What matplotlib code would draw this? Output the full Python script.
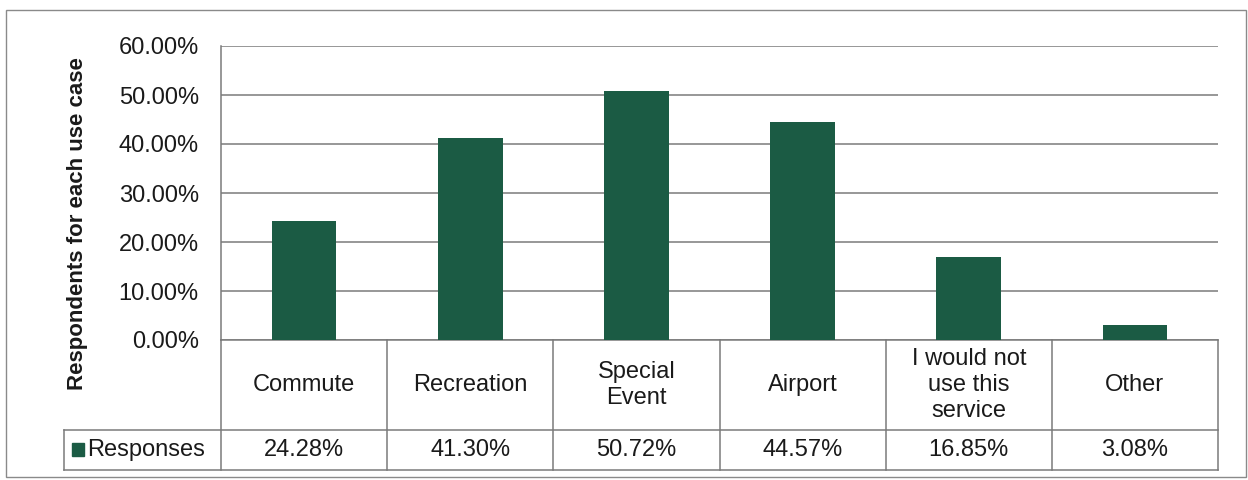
import matplotlib.pyplot as plt
from matplotlib.patches import Rectangle

plt.rcParams['font.family'] = ['Liberation Sans', 'DejaVu Sans']

categories = ["Commute", "Recreation", "Special\nEvent", "Airport",
              "I would not\nuse this\nservice", "Other"]
responses = [24.28, 41.30, 50.72, 44.57, 16.85, 3.08]
series_name = "Responses"
yticks = [0, 10, 20, 30, 40, 50, 60]

bar_color = "#1b5b44"
line_color = "#7a7a7a"
text_color = "#1a1a1a"

W, H = 1248, 480
fig = plt.figure(figsize=(W / 100, H / 100), dpi=100)

# plot area in pixels: left, top, right, bottom
px_l, px_t, px_r, px_b = 221, 46, 1218, 340
ax = fig.add_axes([px_l / W, 1 - px_b / H, (px_r - px_l) / W, (px_b - px_t) / H])

x = range(len(categories))
ax.bar(x, responses, width=0.39, color=bar_color, zorder=3)
ax.set_xlim(-0.5, len(categories) - 0.5)
ax.set_ylim(0, 60)
ax.set_yticks(yticks)
ax.set_yticklabels([f"{v:.2f}%" for v in yticks], fontsize=17, color=text_color)
ax.tick_params(axis="y", length=0, pad=16)
ax.set_xticks([])
ax.grid(axis="y", color=line_color, linewidth=1.1, zorder=0)
for s in ["top", "right", "bottom"]:
    ax.spines[s].set_visible(False)
ax.spines["left"].set_color(line_color)
ax.spines["left"].set_linewidth(1.1)

ax.set_ylabel("Respondents for each use case", fontsize=16, fontweight="bold",
              color=text_color)
ax.yaxis.set_label_coords(-0.133, 0.395)

# data table under the plot area (x in data units, y in axes units)
tr = ax.get_xaxis_transform()
cat_w = (px_r - px_l) / len(categories)
row1 = -(430 - px_b) / (px_b - px_t)
row2 = -(470 - px_b) / (px_b - px_t)
legend_left = -0.5 - (px_l - 64) / cat_w
lkw = dict(color=line_color, linewidth=1.1, transform=tr, clip_on=False)

ax.plot([-0.5, len(categories) - 0.5], [0, 0], **lkw)
ax.plot([legend_left, len(categories) - 0.5], [row1, row1], **lkw)
ax.plot([legend_left, len(categories) - 0.5], [row2, row2], **lkw)
ax.plot([legend_left, legend_left], [row1, row2], **lkw)
for i in range(len(categories) + 1):
    xb = i - 0.5
    ax.plot([xb, xb], [0, row2], **lkw)

for i, (cat, val) in enumerate(zip(categories, responses)):
    ax.text(i, row1 / 2, cat, transform=tr, ha="center", va="center",
            fontsize=17, color=text_color, linespacing=1.25)
    ax.text(i, (row1 + row2) / 2, f"{val:.2f}%", transform=tr, ha="center",
            va="center", fontsize=17, color=text_color)

# legend key and series name
mid = (row1 + row2) / 2
ax.add_patch(Rectangle((legend_left + 0.05, mid - 0.021), 0.072, 0.044,
                       transform=tr, color=bar_color, clip_on=False))
ax.text(legend_left + 0.14, mid, series_name, transform=tr,
        ha="left", va="center", fontsize=17, color=text_color)

# outer chart border
fig.add_artist(Rectangle((6 / W, 3 / H), 1 - 8 / W, 1 - 13 / H,
                         transform=fig.transFigure, fill=False,
                         edgecolor="#8a8a8a", linewidth=1.0))

fig.savefig("out.png", dpi=100, facecolor="white")
